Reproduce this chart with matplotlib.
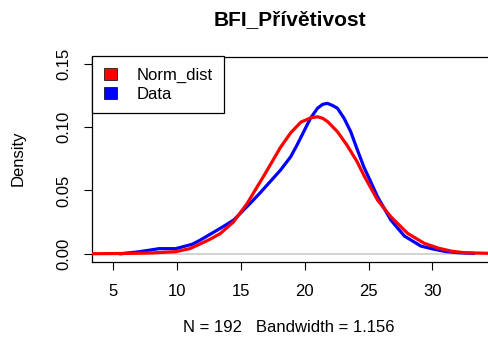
import matplotlib
matplotlib.use("Agg")
import matplotlib.pyplot as plt
from matplotlib.patches import Patch

plt.rcParams['font.family'] = ['Liberation Sans', 'DejaVu Sans']

# 数据：密度曲线
data_x = [5.6, 7.0, 8.6, 9.9, 11.2, 11.83, 13.4, 14.44, 15.75, 16.5, 17.3, 18.1,
          18.9, 19.4, 19.92, 20.45, 21.0, 21.4, 21.77, 22.2, 22.56, 23.08, 23.6,
          24.1, 24.65, 25.04, 25.7, 26.74, 27.8, 29.1, 30.14, 31.0, 32.0, 33.2]
data_y = [0.0, 0.0015, 0.0040, 0.0040, 0.0075, 0.0108, 0.0201, 0.0266, 0.040,
          0.048, 0.057, 0.066, 0.0766, 0.0859, 0.0964, 0.107, 0.1149, 0.118,
          0.1188, 0.117, 0.1149, 0.107, 0.0964, 0.0826, 0.068, 0.0596, 0.045,
          0.0266, 0.0140, 0.0060, 0.0035, 0.0018, 0.0008, 0.0003]

norm_x = [3.35, 6.0, 8.0, 9.9, 11.0, 11.83, 12.6, 13.4, 14.44, 15.5, 16.28, 16.8,
          17.32, 18.1, 18.9, 19.7, 20.5, 21.0, 21.4, 21.8, 22.56, 23.3, 24.1,
          24.65, 25.7, 26.74, 28.05, 29.36, 30.5, 31.5, 32.5, 34.5]
norm_y = [0.0, 0.0002, 0.0006, 0.0016, 0.0040, 0.0078, 0.0115, 0.016, 0.0253,
          0.0398, 0.0529, 0.0615, 0.0705, 0.0840, 0.0955, 0.1040, 0.1074, 0.1082,
          0.107, 0.1043, 0.0964, 0.0859, 0.0727, 0.0615, 0.0424, 0.0292, 0.0161,
          0.0082, 0.0043, 0.002, 0.0008, 0.0003]

x_ticks = [5, 10, 15, 20, 25, 30]
y_ticks = [0.00, 0.05, 0.10, 0.15]

fig = plt.figure(figsize=(4.89, 3.45), dpi=100)
ax = fig.add_axes([92 / 489, 1 - 261.7 / 345, 1.002 - 92 / 489, (261.7 - 56.5) / 345])

# 零线
ax.axhline(0, color='#cccccc', lw=1.2, zorder=1)
ax.plot(data_x, data_y, color='blue', lw=2.3, zorder=2, solid_joinstyle='round')
ax.plot(norm_x, norm_y, color='red', lw=2.3, zorder=3, solid_joinstyle='round')

ax.set_xlim(3.35, 34.5)
ax.set_ylim(-0.0063, 0.1558)
ax.set_xticks(x_ticks)
ax.set_xticklabels([str(t) for t in x_ticks])
ax.set_yticks(y_ticks)
ax.set_yticklabels(['%.2f' % t for t in y_ticks], rotation=90, va='center')
ax.tick_params(direction='out', length=6, width=0.8, labelsize=12, pad=10, colors='black')
ax.tick_params(axis='y', pad=9)
for s in ax.spines.values():
    s.set_linewidth(0.9)

fig.text(290 / 489, 1 - 20 / 345, 'BFI_Přívětivost', ha='center', va='center',
         fontsize=15, fontweight='bold')
fig.text(289 / 489, 1 - 328 / 345, 'N = 192   Bandwidth = 1.156', ha='center',
         va='center', fontsize=12)
fig.text(18 / 489, 1 - 158 / 345, 'Density', ha='center', va='center',
         rotation=90, fontsize=12)

handles = [Patch(facecolor='red', edgecolor='black', lw=0.5),
           Patch(facecolor='blue', edgecolor='black', lw=0.5)]
leg = ax.legend(handles, ['Norm_dist', 'Data'], loc='upper left',
                bbox_to_anchor=(0, 1), borderaxespad=0, fancybox=False,
                edgecolor='black', framealpha=1, fontsize=12, handlelength=0.8,
                handleheight=0.7, handletextpad=1.15, borderpad=0.7,
                labelspacing=0.2)
leg.get_frame().set_linewidth(0.9)

fig.savefig('out.png', dpi=100)
